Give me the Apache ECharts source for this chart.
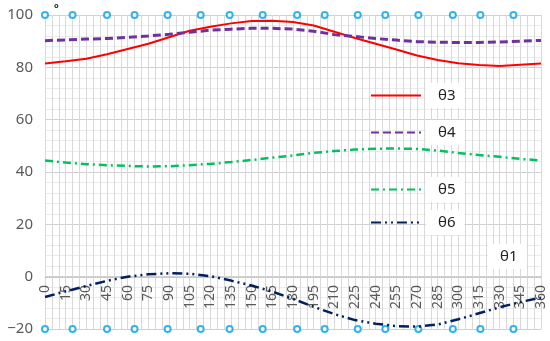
<!DOCTYPE html>
<html><head><meta charset="utf-8">
<script src="https://cdn.jsdelivr.net/npm/echarts@6/dist/echarts.min.js"></script>
<style>html,body{margin:0;padding:0;background:#fff}#c{width:550px;height:341px}</style>
</head><body><div id="c"></div>
<script>
const angles = [0,15,30,45,60,75,90,105,120,135,150,165,180,195,210,225,240,255,270,285,300,315,330,345,360];
const theta3 = [81.5,82.3,83.3,85.0,87.0,89.0,91.5,94.0,95.5,96.8,97.7,97.8,97.3,96.0,93.6,91.2,89.0,86.8,84.5,82.8,81.6,80.9,80.5,81.0,81.5];
const theta4 = [90.2,90.5,90.8,91.0,91.5,92.0,92.6,93.4,94.2,94.6,94.9,94.9,94.6,93.8,92.5,91.8,91.0,90.4,89.8,89.6,89.5,89.5,89.7,90.0,90.3];
const theta5 = [44.4,43.6,43.0,42.6,42.3,42.1,42.2,42.6,43.1,43.8,44.6,45.5,46.3,47.3,48.0,48.6,48.9,49.0,48.8,48.2,47.3,46.5,45.8,45.0,44.4];
const theta6 = [-7.8,-5.6,-3.6,-1.6,0.0,0.9,1.3,1.1,0.2,-1.5,-3.4,-5.7,-8.5,-11.5,-14.3,-16.6,-18.0,-18.9,-19.1,-18.3,-16.3,-14.0,-11.7,-9.7,-8.0];
const theta1X = [0,20,45,65,89,113,134,158,183,203,227,247,271,296,316,340];
const theta1Y = [100,-20];
const yTicks = [-20,0,20,40,60,80,100];

const pairs = (ys) => angles.map((a,i)=>[a, ys[i]]);
const markerData = [];
theta1Y.forEach(y => theta1X.forEach(x => markerData.push([x, y])));

const chart = echarts.init(document.getElementById('c'));
const legendText = {color:'#222', fontSize:15, fontFamily:'Noto Sans', backgroundColor:'#fff', padding:[5,9,5,12]};
function lg(name, left, top){
  return {data:[name], left:left, top:top, padding:0, itemWidth:50, itemHeight:14, itemGap:0,
          itemStyle:{opacity:0}, textStyle:legendText, selectedMode:false};
}
chart.setOption({
  animation:false,
  backgroundColor:'#fff',
  grid:{left:45, right:9, top:15, bottom:12, outerBoundsMode:'none'},
  legend:[
    lg('θ3', 370, 83),
    lg('θ4', 370, 120),
    lg('θ5', 370, 177),
    lg('θ6', 370, 210),
    {data:[{name:'θ1', icon:'none'}], left:483, top:244, padding:0, itemWidth:0, itemGap:0, textStyle:legendText, selectedMode:false}
  ],
  xAxis:{
    type:'value', min:0, max:360, interval:15, position:'bottom', offset:-52,
    axisLine:{onZero:false, lineStyle:{color:'#c8c8c8'}},
    axisTick:{show:false},
    axisLabel:{rotate:90, color:'#595959', fontSize:14, fontFamily:'Noto Sans', margin:8,
      formatter:(v)=> angles.indexOf(v) >= 0 ? String(v) : ''},
    splitLine:{show:true, lineStyle:{color:'#d9d9d9'}},
    minorTick:{show:false, splitNumber:3},
    minorSplitLine:{show:true, lineStyle:{color:'#d9d9d9'}}
  },
  yAxis:{
    type:'value', min:yTicks[0], max:yTicks[yTicks.length-1], interval:20,
    axisLine:{show:false}, axisTick:{show:false},
    axisLabel:{color:'#595959', fontSize:15, fontFamily:'Noto Sans', margin:12,
      formatter:(v)=> v < 0 ? '\u2212' + Math.abs(v) : String(v)},
    splitLine:{show:true, lineStyle:{color:'#d0d0d0'}},
    minorTick:{show:false, splitNumber:5},
    minorSplitLine:{show:true, lineStyle:{color:'#ececec'}}
  },
  graphic:[{type:'text', left:54, top:4, style:{text:'º', fill:'#333', font:'bold 12px Noto Sans'}}],
  series:[
    {name:'θ3', type:'line', data:pairs(theta3), symbol:'none', smooth:false,
     lineStyle:{color:'#ff0000', width:2}, itemStyle:{color:'#ff0000'}},
    {name:'θ4', type:'line', data:pairs(theta4), symbol:'none',
     lineStyle:{color:'#7030a0', width:3, type:[8,4]}, itemStyle:{color:'#7030a0'}},
    {name:'θ5', type:'line', data:pairs(theta5), symbol:'none',
     lineStyle:{color:'#00c060', width:2.5, type:[8,4,2,4]}, itemStyle:{color:'#00c060'}},
    {name:'θ6', type:'line', data:pairs(theta6), symbol:'none',
     lineStyle:{color:'#002060', width:2.5, type:[10,4,2,4,2,4]}, itemStyle:{color:'#002060'}},
    {name:'θ1', type:'scatter', data:markerData, symbol:'circle', symbolSize:6, clip:false,
     itemStyle:{color:'#fff', borderColor:'#00a0e6', borderWidth:2}}
  ]
});
</script></body></html>
